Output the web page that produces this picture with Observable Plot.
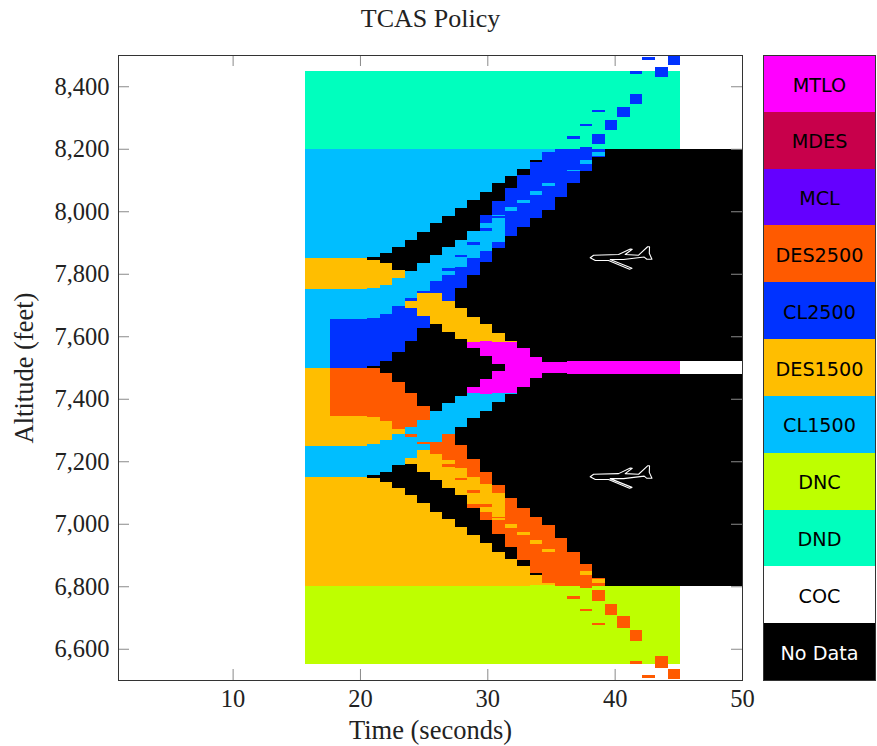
<!DOCTYPE html>
<html>
<head>
<meta charset="utf-8">
<script src="https://cdn.jsdelivr.net/npm/d3@7"></script>
<script src="https://cdn.jsdelivr.net/npm/@observablehq/plot@0.6"></script>
<style>
html,body{margin:0;padding:0;background:#fff;}
#chart{position:relative;width:877px;height:746px;overflow:hidden;}
#chart svg{position:absolute;top:0;background:transparent;}
</style>
</head>
<body>
<div id="chart"></div>
<script>
const ND="No Data",COC="COC",DND="DND",DNC="DNC",CL15="CL1500",DES15="DES1500",CL25="CL2500",DES25="DES2500",MCL="MCL",MDES="MDES",MTLO="MTLO";

const policies=[MTLO,MDES,MCL,DES25,CL25,DES15,CL15,DNC,DND,COC,ND];
const policyColors=["#ff00ff","#c8004b","#6400ff","#ff5a00","#0032ff","#ffbe00","#00beff","#beff00","#00ffbe","#ffffff","#000000"];
const policyTextColors=["#000","#000","#000","#000","#000","#000","#000","#000","#000","#000","#fff"];

const xTicks=[10,20,30,40,50];
const yTicks=[6600,6800,7000,7200,7400,7600,7800,8000,8200,8400];

const columnStarts=[15.68,16.66,17.64,18.62,19.61,20.59,21.57,22.55,23.53,24.51,25.50,26.48,27.46,28.44,29.42,30.40,31.39,32.37,33.35,34.33,35.31,36.29,37.28,38.26,39.24,40.22,41.20,42.18,43.16,44.15,45.13,46.12,47.10,48.08,49.06,50.00];

// Each column: altitude, policy, altitude, policy, ... altitude (top to bottom)
const col00=[8450,DND,8200,CL15,7850,DES15,7750,CL15,7500,DES15,7250,CL15,7150,DES15,6800,DNC,6550];
const col01=col00;
const col02=[8450,DND,8200,CL15,7850,DES15,7750,CL15,7655,CL25,7500,DES25,7345,DES15,7250,CL15,7150,DES15,6800,DNC,6550];
const col03=col02;
const col04=col02;
const col05=[8450,DND,8200,CL15,7854,ND,7844,DES15,7754,CL15,7658,CL25,7505,ND,7498,DES25,7342,DES15,7255,CL15,7156,ND,7146,DES15,6800,DNC,6550];
const col06=[8450,DND,8200,CL15,7866,ND,7834,DES15,7764,CL15,7671,CL25,7521,ND,7482,DES25,7329,DES15,7268,CL15,7166,ND,7134,DES15,6800,DNC,6550];
const col07=[8450,DND,8200,CL15,7886,ND,7812,DES15,7786,CL15,7697,CL25,7550,ND,7454,DES25,7303,DES15,7287,CL15,7188,ND,7114,DES15,6800,DNC,6550];
const col08=[8450,DND,8200,CL15,7908,ND,7809,CL15,7722,CL25,7713,DES15,7690,CL25,7585,ND,7418,DES25,7310,CL15,7287,DES25,7278,CL15,7210,DES15,7191,ND,7092,DES15,6800,DNC,6550];
const col09=[8450,DND,8200,CL15,7934,ND,7834,CL15,7745,CL25,7738,DES15,7665,CL25,7626,ND,7377,DES25,7332,CL15,7262,DES25,7255,CL15,7236,DES15,7166,ND,7066,DES15,6800,DNC,6550];
const col10=[8450,DND,8200,CL15,7962,ND,7860,CL15,7777,CL25,7738,DES15,7639,ND,7361,CL15,7262,DES25,7223,DES15,7140,ND,7038,DES15,6800,DNC,6550];
const col11=[8450,DND,8200,CL15,7985,ND,7886,CL15,7818,CL25,7809,CL15,7796,CL25,7713,DES15,7614,ND,7386,CL15,7287,DES25,7204,DES15,7191,DES25,7182,DES15,7114,ND,7015,DES15,6800,DNC,6550];
const col12=[8450,DND,8200,CL15,8010,ND,7908,CL15,7860,CL25,7854,CL15,7822,CL25,7754,ND,7690,DES15,7591,ND,7409,CL15,7310,ND,7252,DES25,7178,DES15,7146,DES25,7140,DES15,7092,ND,6990,DES15,6800,DNC,6550];
const col13=[8450,DND,8200,CL15,8036,ND,7937,CL15,7902,CL25,7892,CL15,7850,CL25,7796,ND,7662,DES15,7582,MTLO,7562,ND,7438,MTLO,7418,CL15,7338,ND,7207,DES25,7150,DES15,7108,DES25,7098,DES15,7063,DES25,7050,ND,6964,DES15,6800,DNC,6550];
const col14=[8450,DND,8200,CL15,8062,ND,7988,CL25,7962,CL15,7946,CL25,7937,CL15,7873,CL25,7838,ND,7639,DES15,7585,MTLO,7537,ND,7463,MTLO,7415,CL15,7361,ND,7166,DES25,7127,DES15,7063,DES25,7054,DES15,7038,DES25,7012,ND,6938,DES15,6800,DNC,6550];
const col15=[8450,DND,8200,CL15,8090,ND,8033,CL25,7988,CL15,7985,CL25,7978,CL15,7902,CL25,7882,ND,7610,DES15,7582,MTLO,7511,ND,7489,MTLO,7418,CL15,7390,ND,7124,DES25,7098,DES15,7022,DES25,7018,DES15,7012,DES25,6967,ND,6910,DES15,6800,DNC,6550];
const col16=[8450,DND,8200,CL15,8113,ND,8074,CL25,8014,CL15,8001,CL25,7921,ND,7585,DES15,7582,MTLO,7418,CL15,7415,ND,7082,DES25,7000,DES15,6986,DES25,6926,ND,6887,DES15,6800,DNC,6550];
const col17=[8450,DND,8200,CL15,8135,ND,8116,CL25,8036,CL15,8026,CL25,7950,ND,7562,MTLO,7438,ND,7050,DES25,6974,DES15,6964,DES25,6884,ND,6865,DES15,6800,DNC,6550];
const col18=[8450,DND,8200,CL15,8164,ND,8158,CL25,8065,CL15,8052,CL25,7978,ND,7534,MTLO,7466,ND,7022,DES25,6948,DES15,6935,DES25,6842,ND,6836,DES15,6804,DNC,6550];
const col19=[8450,DND,8200,CL15,8190,CL25,8090,CL15,8081,CL25,8004,ND,7518,MTLO,7482,ND,6996,DES25,6919,DES15,6910,DES25,6810,DES15,6804,DNC,6550];
const col20=[8450,DND,8200,CL25,8046,ND,7518,MTLO,7482,ND,6954,DES25,6800,DNC,6550];
const col21=[8450,DND,8241,CL25,8231,DND,8200,CL25,8132,CL15,8129,CL25,8090,ND,7520,MTLO,7480,ND,6910,DES25,6800,DNC,6769,DES25,6759,DNC,6550];
const col22=[8450,DND,8279,CL25,8273,DND,8206,CL25,8164,CL15,8151,CL25,8129,ND,7520,MTLO,7480,ND,6871,DES25,6849,DES15,6836,DES25,6794,DNC,6727,DES25,6721,DNC,6550];
const col23=[8450,DND,8324,CL25,8318,DND,8247,CL25,8215,DND,8200,CL25,8190,CL15,8177,CL25,8174,ND,7520,MTLO,7480,ND,6826,DES25,6823,DES15,6810,DES25,6800,DNC,6788,DES25,6753,DNC,6682,DES25,6676,DNC,6550];
const col24=[8450,DND,8292,CL25,8260,DND,8200,ND,7520,MTLO,7480,ND,6800,DNC,6743,DES25,6708,DNC,6550];
const col25=[8450,DND,8334,CL25,8302,DND,8200,ND,7520,MTLO,7480,ND,6800,DNC,6705,DES25,6666,DNC,6550];
const col26=[8450,CL25,8439,DND,8375,CL25,8343,DND,8200,ND,7520,MTLO,7480,ND,6800,DNC,6660,DES25,6625,DNC,6561,DES25,6550];
const col27=[8494,CL25,8484,COC,8450,DND,8200,ND,7520,MTLO,7480,ND,6800,DNC,6550,COC,6516,DES25,6506];
const col28=[8462,CL25,8430,DND,8200,ND,7520,MTLO,7480,ND,6800,DNC,6577,DES25,6538];
const col29=[8500,CL25,8468,COC,8450,DND,8200,ND,7520,MTLO,7480,ND,6800,DNC,6550,COC,6535,DES25,6503];
const col30=[8200,ND,7520,COC,7480,ND,6800];
const columns=[col00,col01,col02,col03,col04,col05,col06,col07,col08,col09,col10,col11,col12,col13,col14,col15,col16,col17,col18,col19,col20,col21,col22,col23,col24,col25,col26,col27,col28,col29,col30,col30,col30,col30,col30];

// Aircraft outline, offsets from its centre in seconds and feet
const planeCenters=[[40.4,7858],[40.4,7157]];
const planeDt=[-2.36,-2.09,-0.13,0.79,0.94,0.39,1.44,2.15,2.30,2.28,2.49,2.09,1.88,0.26,-0.79,0.92,0.73,-0.92,-1.96];
const planeDa=[-5,3,5,23,22,5,3,30,30,9,-10,-10,-3,-11,-11,-39,-42,-14,-14];

const cells=[];
columns.forEach((c,k)=>{
  for(let i=1;i<c.length-1;i+=2){
    cells.push({x1:columnStarts[k],x2:columnStarts[k+1],y1:c[i-1],y2:c[i+1],policy:c[i]});
  }
});

const plane=[];
planeCenters.forEach(([t,a],p)=>planeDt.forEach((dt,i)=>plane.push({p,t:t+dt,a:a+planeDa[i]})));

const frameW=624, tickLen=11, tickColor="#8a8a8a";
const serif="'Liberation Serif','Times New Roman',serif";

const main=Plot.plot({
  width:762,height:746,
  marginLeft:118,marginRight:20,marginTop:55,marginBottom:66,
  style:{fontFamily:serif,fontSize:"24.5px",color:"#222",background:"transparent"},
  x:{domain:[1,50],axis:null},
  y:{domain:[6500,8500],axis:null},
  color:{type:"ordinal",domain:policies,range:policyColors},
  marks:[
    Plot.rect(cells,{x1:"x1",x2:"x2",y1:"y1",y2:"y2",fill:"policy",shapeRendering:"crispEdges",clip:true}),
    Plot.line(plane,{x:"t",y:"a",z:"p",stroke:"#fff",strokeWidth:1.1,curve:"linear-closed"}),
    Plot.tickX(xTicks,{x:d=>d,stroke:tickColor,insetTop:625-tickLen}),
    Plot.tickX(xTicks,{x:d=>d,stroke:tickColor,insetBottom:625-tickLen}),
    Plot.tickY(yTicks,{y:d=>d,stroke:tickColor,insetRight:frameW-tickLen}),
    Plot.tickY(yTicks,{y:d=>d,stroke:tickColor,insetLeft:frameW-tickLen}),
    Plot.axisX(xTicks,{anchor:"bottom",tickSize:0,tickPadding:9,label:null,tickFormat:d=>d3.format("d")(d)}),
    Plot.axisY(yTicks,{anchor:"left",tickSize:0,tickPadding:9,label:null,tickFormat:d=>d3.format(",")(d)}),
    Plot.text(["Time (seconds)"],{frameAnchor:"bottom",dy:58,fontSize:26.5,fill:"#222"}),
    Plot.text(["Altitude (feet)"],{frameAnchor:"left",dx:-94,rotate:-90,textAnchor:"middle",fontSize:26.5,fill:"#222"}),
    Plot.text(["TCAS Policy"],{frameAnchor:"top",dy:-47,fontSize:26,fill:"#222"}),
    Plot.frame({stroke:"#333",strokeWidth:1})
  ]
});
main.style.left="0px";

const bar=Plot.plot({
  width:120,height:746,
  marginLeft:6,marginRight:2,marginTop:55,marginBottom:66,
  style:{fontFamily:"'DejaVu Sans',sans-serif",background:"transparent"},
  x:{axis:null,domain:[0,1]},
  y:{axis:null,type:"band",domain:policies,padding:0,round:false},
  color:{type:"ordinal",domain:policies,range:policyColors},
  marks:[
    Plot.rect(policies,{x1:0,x2:1,y:d=>d,fill:d=>d,shapeRendering:"crispEdges"}),
    Plot.text(policies,{x:0.5,y:d=>d,text:d=>d,fontSize:19.2,dy:1.5,fill:(d,i)=>policyTextColors[i]}),
    Plot.frame({stroke:"#333",strokeWidth:1})
  ]
});
bar.style.left="757px";

const host=document.getElementById("chart");
host.appendChild(main);
host.appendChild(bar);
</script>
</body>
</html>
